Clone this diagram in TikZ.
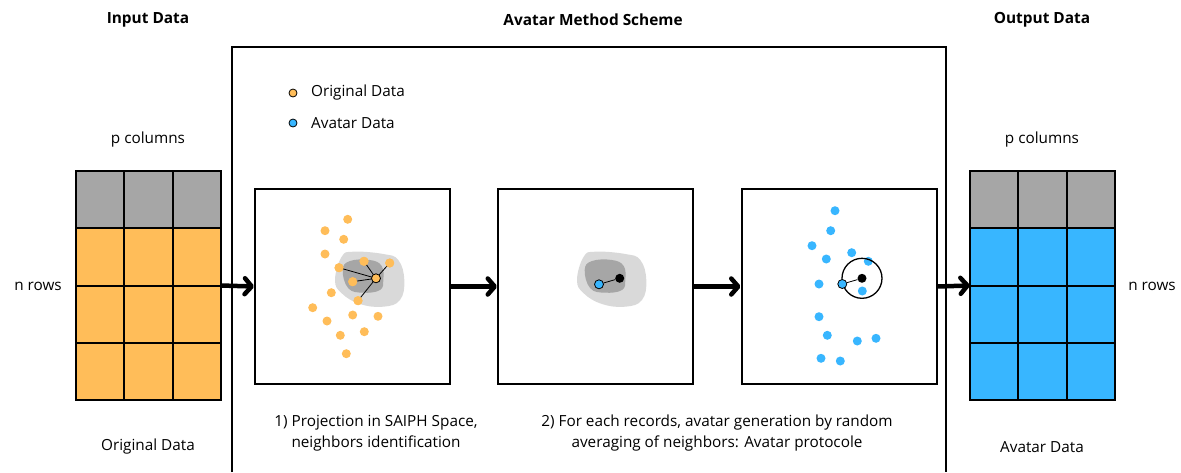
\documentclass[tikz,border=0pt]{standalone}
\usepackage{fontspec}
\setmainfont{Open Sans}
\usetikzlibrary{arrows.meta}
\definecolor{orig}{HTML}{FFBD59}
\definecolor{avat}{HTML}{38B6FF}
\definecolor{hdr}{HTML}{A6A6A6}
\definecolor{blobL}{HTML}{D9D9D9}
\definecolor{blobD}{HTML}{A6A6A6}
\tikzset{
  txt/.style={font=\fontsize{15.3}{21}\selectfont, inner sep=0pt},
  ttl/.style={font=\fontsize{15.4}{21}\selectfont\bfseries, inner sep=0pt},
  panel/.style={draw, line width=2pt, minimum width=195pt, minimum height=195pt, inner sep=0pt},
  tabbox/.style={minimum width=145pt, minimum height=229pt, inner sep=0pt},
  cell/.style={draw, line width=2pt},
  odot/.style={circle, fill=orig, minimum size=9pt, inner sep=0pt},
  adot/.style={circle, fill=avat, minimum size=9pt, inner sep=0pt},
  odotk/.style={circle, fill=orig, draw=black, line width=0.8pt, minimum size=9pt, inner sep=0pt},
  adotk/.style={circle, fill=avat, draw=black, line width=0.8pt, minimum size=9pt, inner sep=0pt},
  kdot/.style={circle, fill=black, minimum size=9pt, inner sep=0pt},
  link/.style={line width=0.8pt},
  flow/.style={line width=4.5pt, -{Straight Barb[length=7pt,width=16pt,line cap=round,line join=round]}},
  frame/.style={line width=2pt}
}
\begin{document}
\begin{tikzpicture}[x=1pt,y=-1pt]
\useasboundingbox (0,0) rectangle (1181,472);
% titles
\node[ttl] (tIn) at (148,20) {Input Data};
\node[ttl] (tMid) at (593,20) {Avatar Method Scheme};
\node[ttl] (tOut) at (1042,20) {Output Data};
% big frame
\draw[frame] (232,472) -- (232,47) -- (946,47) -- (946,472);
% tables
\foreach \ox/\col in {76/orig, 970/avat}{
  \foreach \i in {0,1,2}{
    \draw[cell, fill=hdr] ({\ox+\i*48.333},171) rectangle ++(48.333,57.25);
    \foreach \j in {1,2,3}{
      \draw[cell, fill=\col] ({\ox+\i*48.333},{171+\j*57.25}) rectangle ++(48.333,57.25);
    }
  }
}
\node[tabbox] (tabL) at (148.5,285.5) {};
\node[tabbox] (tabR) at (1042.5,285.5) {};
\node[txt] (pcL) at (148,140) {p columns};
\node[txt] (pcR) at (1042,140) {p columns};
\node[txt] (nrL) at (38,286) {n rows};
\node[txt] (nrR) at (1152,286) {n rows};
\node[txt] (odL) at (148,447) {Original Data};
\node[txt] (adL) at (1042,447) {Avatar Data};
% legend
\node[odotk, minimum size=8pt] (lgO) at (293,93) {};
\node[adotk, minimum size=8pt] (lgA) at (293,123) {};
\node[txt, anchor=west] (lgOt) at (311,93) {Original Data};
\node[txt, anchor=west] (lgAt) at (311,123) {Avatar Data};
% panels
\node[panel] (p1) at (352.5,286.5) {};
\node[panel] (p2) at (595.5,286.5) {};
\node[panel] (p3) at (839,286.5) {};
% blobs
\foreach \dx in {0,242}{
  \fill[blobL] plot[smooth cycle, tension=0.7] coordinates {({335+\dx},280) ({341.7+\dx},256.7) ({353.3+\dx},251.7) ({383.3+\dx},254) ({398.3+\dx},260) ({404.3+\dx},280) ({400+\dx},300) ({383.3+\dx},306.7) ({360+\dx},304) ({341.7+\dx},293.3)};
  \fill[blobD] plot[smooth cycle, tension=0.7] coordinates {({342.7+\dx},270) ({350+\dx},261) ({370+\dx},260) ({381.7+\dx},266) ({383.3+\dx},280) ({380+\dx},290) ({363.3+\dx},292.7) ({348.3+\dx},288.3)};
}
% panel 1 dots
\foreach \x/\y [count=\k] in {347.7/219.3, 325/230.7, 343.7/239.3, 325/254, 331.3/292.7, 312.7/307.7, 352.7/315, 378/316.3, 327/321, 364.3/331.7, 340.3/335.3, 346.3/353.7}{
  \node[odot] (o\k) at (\x,\y) {};
}
\node[odot] (n1) at (339,267.7) {};
\node[odot] (n2) at (364,261.3) {};
\node[odot] (n3) at (389.7,263) {};
\node[odot] (n4) at (352.7,281.7) {};
\node[odot] (n5) at (358,300.7) {};
\foreach \k in {1,...,5}{
  \draw[link] (376,278.3) -- (n\k.center);
}
\foreach \k in {1,...,5}{
  \node[odot] at (n\k) {};
}
\node[odotk] (c1) at (376,278.3) {};
% panel 2
\node[kdot] (k2) at (619.7,278.3) {};
\node[adotk] (a2) at (599,284.3) {};
\draw[link] (a2) -- (k2);
% panel 3 dots
\foreach \x/\y [count=\k] in {835/210.7, 830.7/230.7, 812/245.7, 851.7/252.7, 826.3/259, 868.3/261.3, 819/284, 862.3/291, 819/316.7, 827.3/335.3, 857.3/341, 876/338.3, 821/358.3, 840.3/361}{
  \node[adot] (b\k) at (\x,\y) {};
}
\node[kdot] (k3) at (862,278.3) {};
\node[circle, draw, line width=1.3pt, minimum size=40pt, inner sep=0pt] (ring) at (k3) {};
\node[adotk] (a3) at (842.3,284) {};
\draw[link] (a3) -- (k3);
% flow arrows
\draw[flow] (tabL.east) -- (p1.west);
\draw[flow] (p1.east) -- (p2.west);
\draw[flow] (p2.east) -- (p3.west);
\draw[flow] (p3.east) -- (tabR.west);
% captions
\node[txt, align=center] (cap1) at (376,433.5) {1) Projection in SAIPH Space,\\neighbors identification};
\node[txt, align=center] (cap2) at (717,433.5) {2) For each records, avatar generation by random\\averaging of neighbors: Avatar protocole};
\end{tikzpicture}
\end{document}
